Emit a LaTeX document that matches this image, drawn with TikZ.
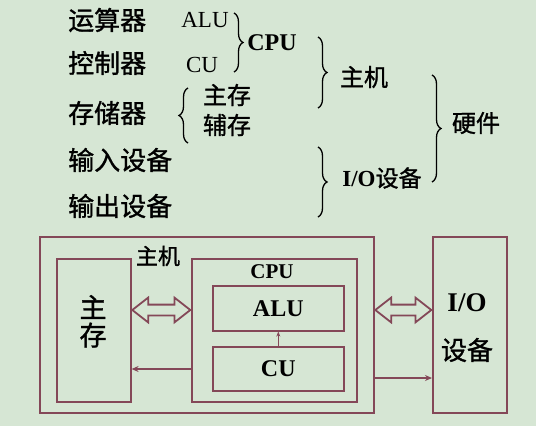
\documentclass[tikz,border=0pt]{standalone}
\usepackage{fontspec}
\setmainfont{Liberation Serif}
\newfontfamily\cjk[FakeBold=1.2]{Noto Sans CJK SC}
\usetikzlibrary{arrows.meta,decorations.pathreplacing,positioning,shapes.arrows,calc}
\definecolor{bgcol}{RGB}{214,230,212}
\definecolor{boxcol}{RGB}{132,72,88}

\tikzset{
  unit/.style={draw=boxcol, line width=1.6pt, inner sep=0pt, anchor=north west},
  zh/.style={font=\cjk\fontsize{26}{30}\selectfont, inner sep=0pt},
  zhs/.style={font=\cjk\fontsize{24}{28}\selectfont, inner sep=0pt},
  en/.style={font=\fontsize{23}{26}\selectfont, inner sep=0pt},
  enb/.style={font=\bfseries\fontsize{24}{26}\selectfont, inner sep=0pt},
  brc/.style={decorate, decoration={brace, amplitude=9pt}, line width=1.3pt},
  dbl/.style={double arrow, draw=boxcol, line width=1.8pt, inner sep=0pt, outer sep=0pt,
    text width=0pt, text height=4.5pt, text depth=4.5pt,
    double arrow head extend=7pt, double arrow tip angle=76},
  sarrow/.style={draw=boxcol, line width=1.4pt, -{Stealth[length=7pt,width=6pt]}}
}

\begin{document}
\begin{tikzpicture}[x=1pt,y=-1pt]
  \fill[bgcol] (0,0) rectangle (536,426);
  \useasboundingbox (0,0) rectangle (536,426);

  % classification
  \node[zh, anchor=west] (ys) at (68,20) {运算器};
  \node[zh, anchor=west] (kz) at (68,63) {控制器};
  \node[zh, anchor=west] (cc) at (68,113) {存储器};
  \node[zh, anchor=west] (sr) at (68,160) {输入设备};
  \node[zh, anchor=west] (sc) at (68,206) {输出设备};
  \node[en] (alu-t) at (205,20) {ALU};
  \node[en] (cu-t) at (202,65) {CU};
  \node[enb] (cpu-t) at (272,43) {CPU};
  \node[zhs] (zc-t) at (227,95) {主存};
  \node[zhs] (fc-t) at (227,125) {辅存};
  \node[zhs] (zj-t) at (364,77) {主机};
  \node[inner sep=0pt] (io-t) at (382,178) {\fontsize{23}{26}\selectfont\bfseries I/O\cjk\mdseries 设备};
  \node[zhs] (yj-t) at (476,123) {硬件};

  \draw[brc] (234,13) -- (234,72);
  \draw[brc] (188,143) -- (188,88);
  \draw[brc] (318,37) -- (318,108);
  \draw[brc] (318,147) -- (318,217);
  \draw[brc] (432,75) -- (432,182);

  % structure
  \node[unit, minimum width=334pt, minimum height=176pt] (host) at (39,236) {};
  \node[unit, minimum width=74pt, minimum height=143pt] (mem) at (56,258) {};
  \node[unit, minimum width=165pt, minimum height=143pt] (cpu) at (191,258) {};
  \node[unit, minimum width=131pt, minimum height=45pt, font=\bfseries\fontsize{24}{26}\selectfont] (alu) at (212,285) {ALU};
  \node[unit, minimum width=131pt, minimum height=44pt, font=\bfseries\fontsize{24}{26}\selectfont] (cu) at (212,346) {CU};
  \node[unit, minimum width=74pt, minimum height=176pt] (io) at (432,236) {};

  \node[font=\cjk\fontsize{22}{24}\selectfont, inner sep=0pt] (host-l) at (158,256) {主机};
  \node[font=\bfseries\fontsize{21}{24}\selectfont, inner sep=0pt] (cpu-l) at (272,272) {CPU};
  \node[font=\cjk\fontsize{27}{28}\selectfont, inner sep=0pt] (zhu) at (93,307) {主};
  \node[font=\cjk\fontsize{27}{28}\selectfont, inner sep=0pt] (cun) at (93,335) {存};
  \node[font=\bfseries\fontsize{27}{30}\selectfont, inner sep=0pt] (io-l) at (467,303) {I/O};
  \node[font=\cjk\fontsize{26}{28}\selectfont, inner sep=0pt] (sb-l) at (467,350) {设备};

  \coordinate (m1) at (mem.east |- 0,310);
  \coordinate (c1) at (cpu.west |- 0,310);
  \coordinate (h1) at (host.east |- 0,310);
  \coordinate (i1) at (io.west |- 0,310);
  \node[dbl, minimum height=58pt] (mc) at ($(m1)!0.5!(c1)$) {};
  \node[dbl, minimum height=56pt] (hi) at ($(h1)!0.5!(i1)$) {};
  \draw[sarrow] (cpu.west |- 0,369) -- (mem.east |- 0,369);
  \draw[sarrow] (host.east |- 0,378) -- (io.west |- 0,378);
  \draw[draw=boxcol, line width=1pt, -{Stealth[length=5pt,width=4pt]}] (cu.north) -- (alu.south);
\end{tikzpicture}
\end{document}
